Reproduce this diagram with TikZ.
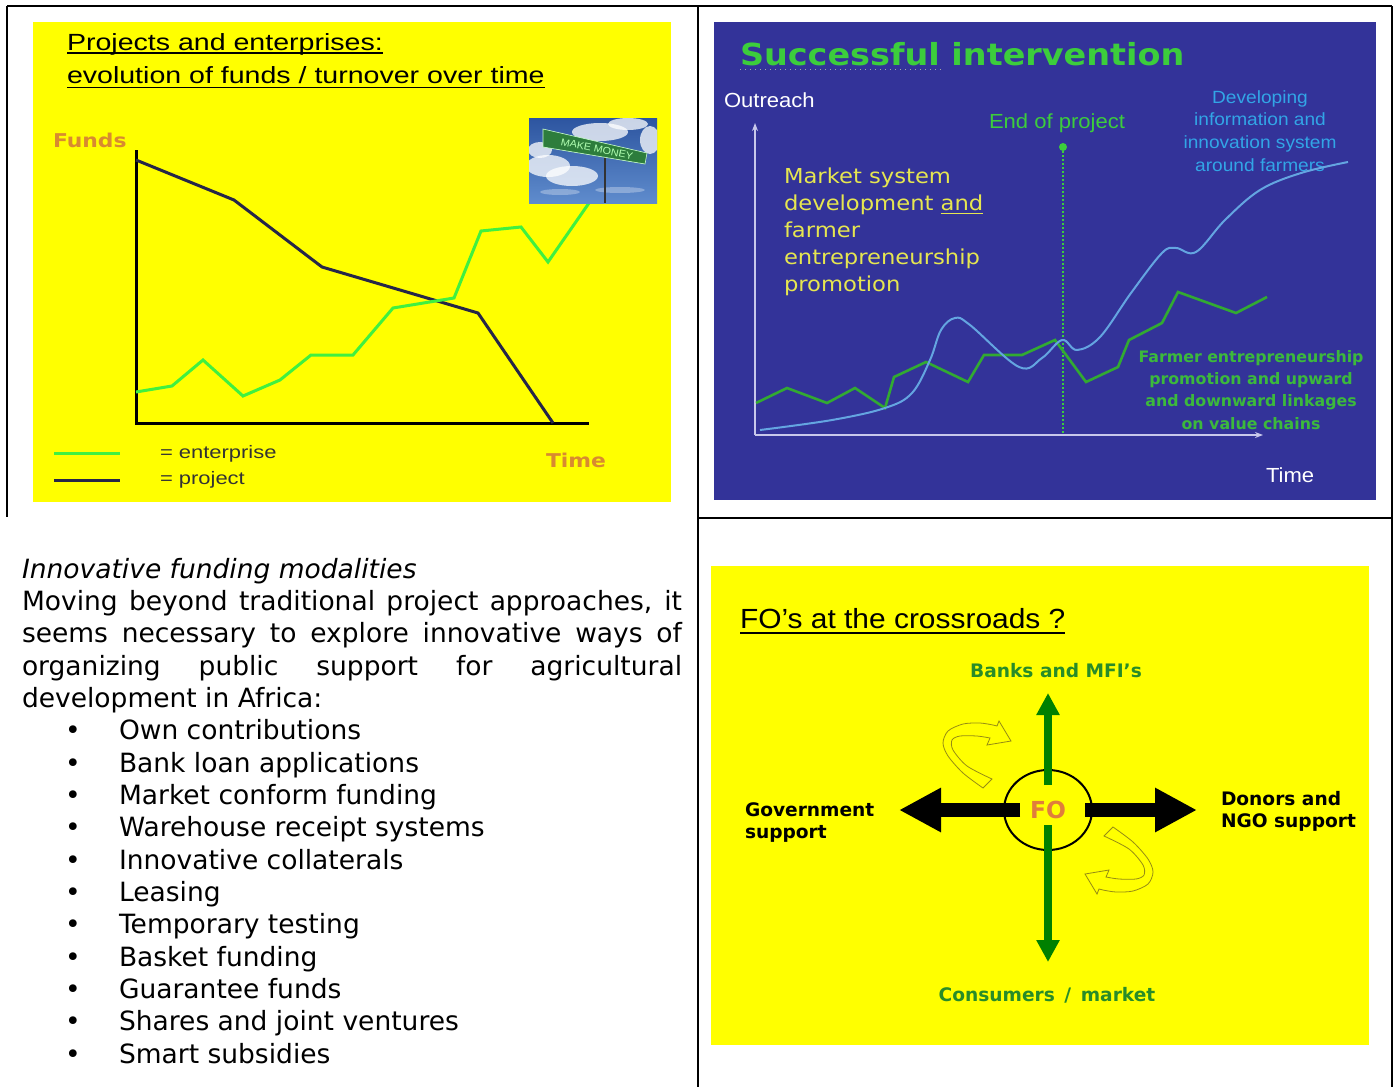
\documentclass[tikz,border=0pt]{standalone}
\usepackage{fontspec}
\setmainfont{DejaVu Sans}
\newfontfamily\arialwide[FakeStretch=1.22]{Liberation Sans}
\newfontfamily\arialnorm[FakeStretch=1.08]{Liberation Sans}
\newfontfamily\verdwide[FakeStretch=1.15]{DejaVu Sans}
\newfontfamily\verdnorm[FakeStretch=1.1]{DejaVu Sans}
\usetikzlibrary{arrows.meta}
\usetikzlibrary{shapes.geometric}
\usetikzlibrary{positioning}

\definecolor{slideyellow}{RGB}{255,255,0}
\definecolor{projnavy}{RGB}{38,38,72}
\definecolor{entgreen}{RGB}{64,240,64}
\definecolor{fundorange}{RGB}{216,138,48}
\definecolor{skytop}{RGB}{45,85,160}
\definecolor{skybottom}{RGB}{95,140,205}
\definecolor{signgreen}{RGB}{45,125,60}
\definecolor{slideblue}{RGB}{51,51,153}
\definecolor{trtitlegreen}{RGB}{60,205,60}
\definecolor{trlinegreen}{RGB}{50,170,50}
\definecolor{trcurveblue}{RGB}{100,165,225}
\definecolor{trinfoblue}{RGB}{50,165,230}
\definecolor{trmarketyellow}{RGB}{230,230,80}
\definecolor{trfarmergreen}{RGB}{60,185,60}
\definecolor{traxisgray}{RGB}{200,200,235}
\definecolor{brgreen}{RGB}{40,140,40}
\definecolor{arrowgreen}{RGB}{0,128,0}
\definecolor{foorange}{RGB}{224,125,60}
\definecolor{curlolive}{RGB}{150,140,20}

\tikzset{
  cellline/.style={line width=1pt},
  txt/.style={inner sep=0pt, outer sep=0pt},
  uline/.style={line width=0.6pt},
  tltitle/.style={txt, font=\arialwide\fontsize{11.7}{14}\selectfont},
  tlaxislabel/.style={txt, text=fundorange, font=\verdwide\bfseries\fontsize{9.5}{11}\selectfont},
  legend/.style={txt, text=black!80, font=\arialwide\fontsize{9}{11}\selectfont},
  axisline/.style={line width=1.5pt},
  projline/.style={projnavy, line width=1.5pt},
  entline/.style={entgreen, line width=1.5pt},
  cloud/.style={white, opacity=0.75},
  signtext/.style={txt, text=green!30!white, font=\arialnorm\fontsize{5}{6}\selectfont},
  trtitle/.style={txt, text=trtitlegreen, font=\verdnorm\bfseries\fontsize{15.2}{18}\selectfont},
  trlabel/.style={txt, text=white, font=\arialnorm\fontsize{10.2}{12}\selectfont},
  trinfo/.style={txt, text=trinfoblue, font=\arialnorm\fontsize{8.85}{11}\selectfont},
  trmarket/.style={txt, text=trmarketyellow, font=\verdnorm\fontsize{10.3}{12}\selectfont},
  trfarmer/.style={txt, text=trfarmergreen, font=\bfseries\fontsize{7.9}{10}\selectfont},
  traxis/.style={traxisgray, line width=0.75pt, -{Stealth[length=4pt,width=3pt]}},
  eopdot/.style={circle, fill=trtitlegreen, inner sep=0pt, minimum size=4pt},
  eopline/.style={trtitlegreen, line width=1pt, dash pattern=on 1pt off 1pt},
  trcurve/.style={trcurveblue, line width=1pt},
  trline/.style={trlinegreen, line width=1.3pt},
  bodytext/.style={txt, font=\fontsize{13.25}{16}\selectfont},
  brtitle/.style={txt, font=\arialnorm\fontsize{13.85}{16}\selectfont},
  brlabel/.style={txt, font=\bfseries\fontsize{9.3}{11}\selectfont},
  foring/.style={ellipse, draw, line width=1pt, minimum width=44pt, minimum height=40pt, inner sep=0pt, text=foorange, font=\bfseries\fontsize{11.7}{14}\selectfont},
  greenarrow/.style={arrowgreen, line width=4pt, -{Triangle[width=11pt,length=11pt]}},
  blackarrow/.style={line width=7.2pt, -{Triangle[width=20.75pt,length=21pt]}},
  curlarrow/.style={draw=curlolive, fill=slideyellow, line width=0.4pt}
}

\newcommand\curlpath{plot[smooth] coordinates {(-65,-22) (-85,-37) (-100,-54) (-105,-67) (-100,-79) (-85,-86) (-68,-87) (-55,-85)} -- (-51,-84) -- (-49,-89) -- (-37,-69) -- (-61,-65) -- (-58,-72) -- plot[smooth] coordinates {(-58,-72) (-71,-74) (-88,-74) (-96,-70) (-95,-60) (-81,-44) (-56,-31)} -- cycle}

\begin{document}
\begin{tikzpicture}[x=0.5pt,y=-0.5pt]
\useasboundingbox (0,0) rectangle (1396,1087);

% table rules
\draw[cellline] (7,6) -- (1392,6);
\draw[cellline] (7,6) -- (7,517);
\draw[cellline] (698,6) -- (698,1087);
\draw[cellline] (1392,6) -- (1392,1087);
\draw[cellline] (698,518) -- (1392,518);

% projects and enterprises
\fill[slideyellow] (33,22) rectangle (671,502);
\node[tltitle,anchor=base west] (tlt1) at (67,50) {Projects and enterprises:};
\node[tltitle,anchor=base west] (tlt2) at (67,83) {evolution of funds / turnover over time};
\draw[uline] ([yshift=-1.5pt]tlt1.base west) -- ([yshift=-1.5pt]tlt1.base east);
\draw[uline] ([yshift=-2.4pt]tlt2.base west) -- ([yshift=-2.4pt]tlt2.base east);
\node[tlaxislabel,anchor=base west] (funds) at (53,147) {Funds};
\node[tlaxislabel,anchor=base west] (time) at (546,467) {Time};
\draw[axisline] (136,150) -- (136,423) -- (589,423);
\draw[projline] (136,160) -- (234,200) -- (322,267) -- (478,313) -- (553,423);
\draw[entline] (136,392) -- (172,386) -- (203,360) -- (243,396) -- (280,380) -- (311,355) -- (353,355) -- (393,308) -- (454,298) -- (481,231) -- (521,227) -- (548,262) -- (589,203);
\begin{scope}
\clip (529,118) rectangle (657,203);
\fill[top color=skytop, bottom color=skybottom] (529,118) rectangle (657,203);
\fill[cloud] (548,166) ellipse (22 and 11);
\fill[cloud] (572,176) ellipse (26 and 10);
\fill[cloud] (540,150) ellipse (12 and 8);
\fill[cloud] (600,132) ellipse (28 and 9);
\fill[cloud] (628,124) ellipse (20 and 6);
\fill[cloud] (650,140) ellipse (10 and 14);
\fill[white,opacity=0.3] (560,192) ellipse (20 and 3);
\fill[white,opacity=0.3] (620,190) ellipse (25 and 3);
\end{scope}
\draw[gray!40!black, line width=1pt] (605,156) -- (605,203);
\fill[signgreen, draw=white!80!green, line width=0.3pt] (543,129) -- (647,153) -- (645,164) -- (543,147) -- cycle;
\node[signtext, rotate=-11.5] (sign) at (597,149) {MAKE MONEY};
\draw[entline] (54,453) -- (120,453);
\draw[projline] (54,480) -- (120,480);
\node[legend,anchor=base west] (leg1) at (160,458) {= enterprise};
\node[legend,anchor=base west] (leg2) at (160,484) {= project};

% successful intervention
\fill[slideblue] (714,22) rectangle (1376,500);
\node[trtitle,anchor=base west] (trt) at (740,65) {Successful intervention};
\draw[gray!70, dotted, line width=0.5pt] (740,69) -- (941,69);
\node[trlabel,anchor=base west] (outreach) at (724,107) {Outreach};
\node[trlabel,anchor=base west] (trtime) at (1266,482) {Time};
\coordinate (tro) at (755,435);
\coordinate (trytop) at (755,123);
\coordinate (trxend) at (1263,435);
\draw[traxis] (tro) -- (trytop);
\draw[traxis] (tro) -- (trxend);
\node[trlabel,text=trtitlegreen,anchor=base] (eoplbl) at (1057,128) {End of project};
\node[eopdot] (eop) at (1063,147) {};
\coordinate (eopfoot) at (1063,435);
\draw[eopline] (eop) -- (eopfoot);
\foreach \dline [count=\i] in {Developing, information and, innovation system, around farmers}
  \node[trinfo,anchor=base] (dev\i) at (1260,{103+22.8*(\i-1)}) {\dline};
\foreach \mline [count=\i] in {Market system, {development \underline{and}}, farmer, entrepreneurship, promotion}
  \node[trmarket,anchor=base west] (mkt\i) at (784,{183+27*(\i-1)}) {\mline};
\foreach \fline [count=\i] in {Farmer entrepreneurship, promotion and upward, and downward linkages, on value chains}
  \node[trfarmer,anchor=base] (fe\i) at (1251,{362+22.4*(\i-1)}) {\fline};
\draw[trline] (756,403) -- (787,388) -- (827,403) -- (855,388) -- (885,408) -- (894,377) -- (926,362) -- (968,382) -- (984,355) -- (1022,355) -- (1055,340) -- (1086,382) -- (1118,367) -- (1129,340) -- (1162,323) -- (1178,292) -- (1236,313) -- (1267,297);
\draw[trcurve] plot[smooth, tension=0.6] coordinates {(760,430) (832,420) (885,408) (912,393) (930,360) (941,330) (955,318) (970,325) (1019,367) (1042,358) (1062,340) (1077,350) (1100,337) (1131,293) (1162,253) (1176,248) (1196,252) (1225,220) (1260,190) (1301,173) (1348,162)};

% innovative funding text
\node[bodytext,anchor=base west] (intro) at (22,578) {\itshape Innovative funding modalities};
\foreach \para [count=\i] in {{Moving beyond traditional project approaches, it}, {seems necessary to explore innovative ways of}, {organizing public support for agricultural}}
  \node[bodytext,anchor=base west] (par\i) at (22,{578+32.35*\i}) {\makebox[330pt][s]{\para}};
\node[bodytext,anchor=base west] (par4) at (22,{578+32.35*4}) {development in Africa:};
\foreach \fund [count=\i] in {Own contributions, Bank loan applications, Market conform funding, Warehouse receipt systems, Innovative collaterals, Leasing, Temporary testing, Basket funding, Guarantee funds, Shares and joint ventures, Smart subsidies}{
  \node[bodytext,anchor=base] (dot\i) at (73,{578+32.35*(\i+4)}) {\textbullet};
  \node[bodytext,anchor=base west] (item\i) at (119,{578+32.35*(\i+4)}) {\fund};
}

% FO's at the crossroads
\fill[slideyellow] (711,566) rectangle (1369,1045);
\node[brtitle,anchor=base west] (brt) at (740,628) {FO’s at the crossroads ?};
\draw[line width=0.8pt] ([yshift=-2.4pt]brt.base west) -- ([yshift=-2.4pt]brt.base east);
\node[foring] (fo) at (1048,810) {FO};
\begin{scope}[shift={(fo.center)}]
\draw[curlarrow] \curlpath;
\end{scope}
\begin{scope}[shift={(fo.center)}, shift={(0,-5)}, rotate=180]
\draw[curlarrow] \curlpath;
\end{scope}
\coordinate (banktip) at (1048,693);
\coordinate (markettip) at (1048,962);
\coordinate (govtip) at (899,810);
\coordinate (donortip) at (1197,810);
\draw[greenarrow] ([yshift=12.5pt]fo.center) -- (banktip);
\draw[greenarrow] ([yshift=-7.5pt]fo.center) -- (markettip);
\draw[blackarrow] ([xshift=-14pt]fo.center) -- (govtip);
\draw[blackarrow] ([xshift=18.5pt]fo.center) -- (donortip);
\node[brlabel,text=brgreen,anchor=base] (banks) at (1056,677) {Banks and MFI's};
\node[brlabel,text=brgreen,anchor=base] (consumers) at (1047,1001) {Consumers \,/\, market};
\node[brlabel,anchor=base west] (gov1) at (745,816) {Government};
\node[brlabel,anchor=base west] (gov2) at (745,838) {support};
\node[brlabel,anchor=base west] (don1) at (1221,805) {Donors and};
\node[brlabel,anchor=base west] (don2) at (1221,827) {NGO support};

\end{tikzpicture}
\end{document}
